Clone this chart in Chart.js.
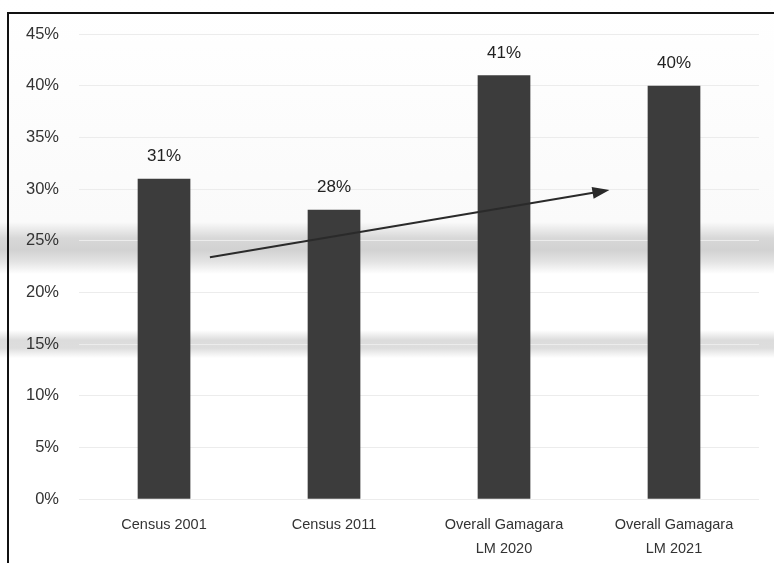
<!DOCTYPE html>
<html>
<head>
<meta charset="utf-8">
<script src="https://cdn.jsdelivr.net/npm/chart.js@4/dist/chart.umd.min.js"></script>
<style>
  html, body { margin: 0; padding: 0; background: #fff; }
  #wrap {
    position: relative; width: 774px; height: 563px;
    background: linear-gradient(to bottom,
      #fff 0px, #fafafa 222px, #d8d8d8 238px, #d2d2d2 250px, #e4e4e4 262px, #fff 274px,
      #fff 330px, #dcdcdc 340px, #dddddd 348px, #fff 358px, #fff 563px);
  }
  #frame {
    position: absolute; left: 7px; top: 12px; right: -2px; bottom: -2px;
    border-left: 2px solid #111; border-top: 2px solid #111;
  }
  canvas { position: absolute; left: 0; top: 0; }
</style>
</head>
<body>
<div id="wrap">
  <div id="frame"></div>
  <canvas id="my-chart" width="774" height="563"></canvas>
</div>
<script>
const categories = [
  "Census 2001",
  "Census 2011",
  ["Overall Gamagara", "LM 2020"],
  ["Overall Gamagara", "LM 2021"],
];
const shareValues = [31, 28, 41, 40];
const yTicks = [0, 5, 10, 15, 20, 25, 30, 35, 40, 45];
// trend arrow, as [category index, percent] for start and end
const trendArrow = [
  [0.27, 23.4],
  [2.62, 29.9],
];

const fontFamily = "'Liberation Sans', Arial, sans-serif";

const arrowPlugin = {
  id: "trendArrow",
  afterDatasetsDraw(chart) {
    const { ctx, scales } = chart;
    const x1 = scales.x.getPixelForValue(trendArrow[0][0]);
    const y1 = scales.y.getPixelForValue(trendArrow[0][1]);
    const x2 = scales.x.getPixelForValue(trendArrow[1][0]);
    const y2 = scales.y.getPixelForValue(trendArrow[1][1]);
    const ang = Math.atan2(y2 - y1, x2 - x1);
    const c = Math.cos(ang), s = Math.sin(ang);
    ctx.save();
    ctx.strokeStyle = "#2a2a2a";
    ctx.fillStyle = "#2a2a2a";
    ctx.lineWidth = 2;
    ctx.beginPath();
    ctx.moveTo(x1, y1);
    ctx.lineTo(x2 - 12 * c, y2 - 12 * s);
    ctx.stroke();
    ctx.beginPath();
    ctx.moveTo(x2, y2);
    ctx.lineTo(x2 - 17 * c + 6 * s, y2 - 17 * s - 6 * c);
    ctx.lineTo(x2 - 17 * c - 6 * s, y2 - 17 * s + 6 * c);
    ctx.closePath();
    ctx.fill();
    ctx.restore();
  },
};

const labelPlugin = {
  id: "barLabels",
  afterDatasetsDraw(chart) {
    const { ctx } = chart;
    const meta = chart.getDatasetMeta(0);
    ctx.save();
    ctx.font = "17px " + fontFamily;
    ctx.fillStyle = "#222";
    ctx.textAlign = "center";
    ctx.textBaseline = "middle";
    meta.data.forEach((bar, i) => {
      ctx.fillText(shareValues[i] + "%", bar.x, bar.y - 22);
    });
    ctx.restore();
  },
};

const ctx = document.getElementById("my-chart").getContext("2d");
const chart = new Chart(ctx, {
  type: "bar",
  data: {
    labels: categories,
    datasets: [
      {
        data: shareValues,
        backgroundColor: "#3c3c3c",
        barPercentage: 0.62,
        categoryPercentage: 0.5,
      },
    ],
  },
  options: {
    responsive: false,
    animation: false,
    layout: { padding: { left: 6, right: 15, top: 34, bottom: -4 } },
    plugins: { legend: { display: false }, tooltip: { enabled: false } },
    scales: {
      x: {
        grid: { display: false },
        border: { display: false },
        ticks: {
          color: "#333",
          padding: 6,
          font: { family: fontFamily, size: 14.5, lineHeight: 1.65 },
          maxRotation: 0,
          autoSkip: false,
        },
      },
      y: {
        min: 0,
        max: 45,
        afterBuildTicks(axis) {
          axis.ticks = yTicks.map((v) => ({ value: v }));
        },
        grid: { color: "#ececec", drawTicks: false },
        border: { display: false },
        ticks: {
          color: "#333",
          padding: 20,
          font: { family: fontFamily, size: 16.5 },
          callback: (v) => v + "%",
        },
      },
    },
  },
  plugins: [arrowPlugin, labelPlugin],
});
</script>
</body>
</html>
